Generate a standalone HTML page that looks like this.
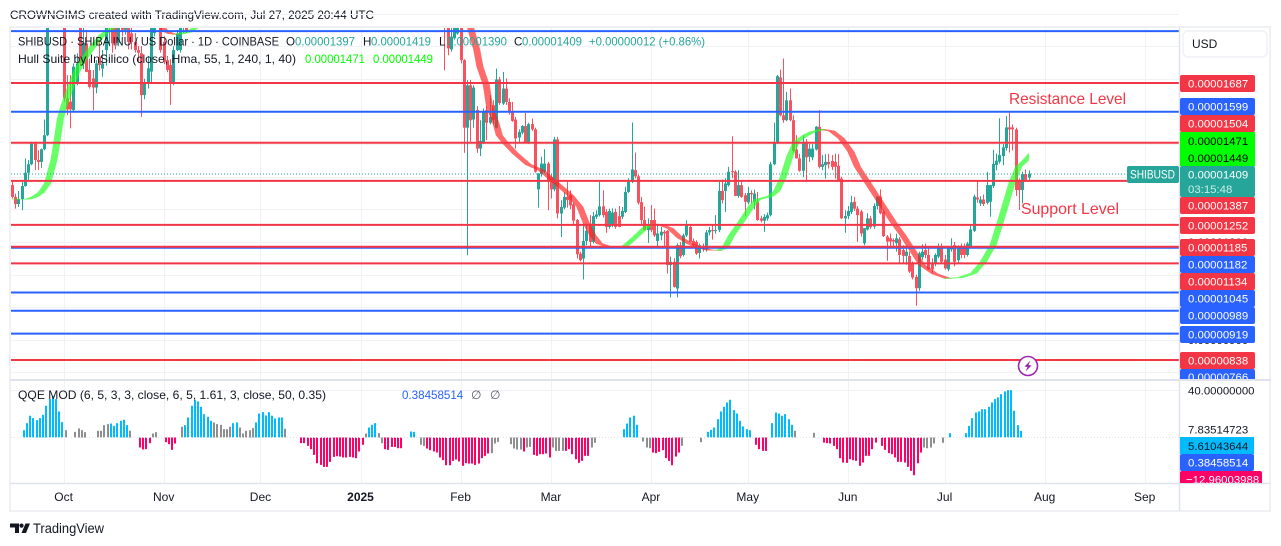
<!DOCTYPE html>
<html lang="en">
<head>
<meta charset="utf-8">
<title>SHIBUSD chart</title>
<style>
html,body{margin:0;padding:0;background:#fff;width:1281px;height:546px;overflow:hidden}
svg{display:block;font-family:"Liberation Sans","DejaVu Sans",sans-serif}
text{white-space:pre}
</style>
</head>
<body>
<svg id="chart" width="1281" height="546" viewBox="0 0 1281 546">
  <defs>
    <clipPath id="mainClip"><rect x="11" y="28" width="1168" height="351"/></clipPath>
    <clipPath id="hullClip"><rect x="11" y="28" width="1018" height="351"/></clipPath>
    <clipPath id="qqeClip"><rect x="11" y="381" width="1168" height="102"/></clipPath>
    <clipPath id="axisClip"><rect x="1180" y="28" width="90" height="351"/></clipPath>
    <clipPath id="qqeAxisClip"><rect x="1180" y="381" width="90" height="102"/></clipPath>
  </defs>
  <rect x="0" y="0" width="1281" height="546" fill="#ffffff"/>
  <text x="10" y="19" font-size="12" textLength="364" lengthAdjust="spacingAndGlyphs" fill="#131722">CROWNGIMS created with TradingView.com, Jul 27, 2025 20:44 UTC</text>
  <rect x="10" y="27" width="1260" height="484" fill="none" stroke="#eff1f5" stroke-width="2"/>
  <g id="grid"></g>
  <g id="candles" clip-path="url(#mainClip)"></g>
  <g id="hull" clip-path="url(#hullClip)"></g>
  <g id="levels" clip-path="url(#mainClip)"></g>
  <line x1="11" y1="174" x2="1127" y2="174" stroke="#26a69a" stroke-width="1" stroke-dasharray="1 2"/>
  <g id="qqe" clip-path="url(#qqeClip)"></g>
  <line x1="11" y1="437.5" x2="1179" y2="437.5" stroke="#dfe1e6" stroke-width="1" stroke-dasharray="1 2"/>

  <line x1="10" y1="380" x2="1271" y2="380" stroke="#e0e3eb" stroke-width="2"/>
  <line x1="10" y1="483.5" x2="1271" y2="483.5" stroke="#e0e3eb" stroke-width="1.5"/>
  <line x1="1179.5" y1="27" x2="1179.5" y2="511" stroke="#e0e3eb" stroke-width="1.5"/>

  <text x="18" y="45.5" font-size="12" textLength="261" lengthAdjust="spacingAndGlyphs" fill="#131722">SHIBUSD · SHIBA INU / US Dollar · 1D · COINBASE</text>
  <g font-size="11.6">
    <text x="286" y="45.5" fill="#131722">O</text>
    <text x="295" y="45.5" fill="#26a69a" textLength="60" lengthAdjust="spacingAndGlyphs">0.00001397</text>
    <text x="363" y="45.5" fill="#131722">H</text>
    <text x="371" y="45.5" fill="#26a69a" textLength="60" lengthAdjust="spacingAndGlyphs">0.00001419</text>
    <text x="439" y="45.5" fill="#131722">L</text>
    <text x="447" y="45.5" fill="#26a69a" textLength="60" lengthAdjust="spacingAndGlyphs">0.00001390</text>
    <text x="514" y="45.5" fill="#131722">C</text>
    <text x="522" y="45.5" fill="#26a69a" textLength="60" lengthAdjust="spacingAndGlyphs">0.00001409</text>
    <text x="589" y="45.5" fill="#26a69a" textLength="116" lengthAdjust="spacingAndGlyphs">+0.00000012 (+0.86%)</text>
  </g>
  <text x="18" y="63" font-size="12" textLength="278" lengthAdjust="spacingAndGlyphs" fill="#131722">Hull Suite by InSilico (close, Hma, 55, 1, 240, 1, 40)</text>
  <text x="305" y="63" font-size="11.6" textLength="60" lengthAdjust="spacingAndGlyphs" fill="#00ff00">0.00001471</text>
  <text x="373" y="63" font-size="11.6" textLength="60" lengthAdjust="spacingAndGlyphs" fill="#00ff00">0.00001449</text>

  <text x="18" y="399" font-size="12" textLength="308" lengthAdjust="spacingAndGlyphs" fill="#131722">QQE MOD (6, 5, 3, 3, close, 6, 5, 1.61, 3, close, 50, 0.35)</text>
  <text x="402" y="399" font-size="11.6" fill="#2962ff">0.38458514</text>
  <text x="471" y="399" font-size="12" fill="#555a66">∅</text>
  <text x="490" y="399" font-size="12" fill="#555a66">∅</text>

  <text x="1009" y="104" font-size="16" textLength="117" lengthAdjust="spacingAndGlyphs" fill="#f23645">Resistance Level</text>
  <text x="1021" y="214" font-size="16" textLength="98" lengthAdjust="spacingAndGlyphs" fill="#f23645">Support Level</text>

  <g>
    <circle cx="1028" cy="366" r="9.5" fill="#fff" stroke="#9c27b0" stroke-width="1.6"/>
    <polygon points="1030.5,360.5 1024.5,366.5 1027.5,367 1025.5,371.5 1031.5,365.5 1028.5,365" fill="#9c27b0"/>
  </g>

  <g>
    <rect x="1183" y="31" width="84" height="26" rx="5" fill="#fff" stroke="#eff1f5" stroke-width="1.5"/>
    <text x="1192" y="48" font-size="12" fill="#131722">USD</text>
  </g>

  <g clip-path="url(#axisClip)" font-size="11.4">
    <text x="1188" y="83" fill="#131722">0.00001700</text>
    <text x="1188" y="246" fill="#131722">0.00001200</text>
    <text x="1188" y="344" fill="#131722">0.00000900</text>

    <rect x="1180" y="75" width="75" height="17" rx="2" fill="#f23645"/>
    <text x="1188" y="87.5" fill="#fff">0.00001687</text>
    <rect x="1180" y="98" width="75" height="17" rx="2" fill="#2962ff"/>
    <text x="1188" y="110.5" fill="#fff">0.00001599</text>
    <rect x="1180" y="115" width="75" height="17" rx="2" fill="#f23645"/>
    <text x="1188" y="127.5" fill="#fff">0.00001504</text>
    <rect x="1180" y="132" width="75" height="17" fill="#00ff00"/>
    <text x="1188" y="145" fill="#000">0.00001471</text>
    <rect x="1180" y="149" width="75" height="17" fill="#00ff00"/>
    <text x="1188" y="162" fill="#000">0.00001449</text>
    <rect x="1180" y="166" width="75" height="31" rx="2" fill="#26a69a"/>
    <text x="1188" y="178.5" fill="#fff">0.00001409</text>
    <text x="1188" y="193" fill="#c9ece8">03:15:48</text>
    <rect x="1180" y="197" width="75" height="17" rx="2" fill="#f23645"/>
    <text x="1188" y="209.5" fill="#fff">0.00001387</text>
    <rect x="1180" y="217" width="75" height="17" rx="2" fill="#f23645"/>
    <text x="1188" y="229.5" fill="#fff">0.00001252</text>
    <rect x="1180" y="239" width="75" height="17" rx="2" fill="#f23645"/>
    <text x="1188" y="251.5" fill="#fff">0.00001185</text>
    <rect x="1180" y="256" width="75" height="17" rx="2" fill="#2962ff"/>
    <text x="1188" y="268.5" fill="#fff">0.00001182</text>
    <rect x="1180" y="273" width="75" height="17" rx="2" fill="#f23645"/>
    <text x="1188" y="285.5" fill="#fff">0.00001134</text>
    <rect x="1180" y="290" width="75" height="17" rx="2" fill="#2962ff"/>
    <text x="1188" y="302.5" fill="#fff">0.00001045</text>
    <rect x="1180" y="307" width="75" height="17" rx="2" fill="#2962ff"/>
    <text x="1188" y="319.5" fill="#fff">0.00000989</text>
    <rect x="1180" y="326" width="75" height="17" rx="2" fill="#2962ff"/>
    <text x="1188" y="338.5" fill="#fff">0.00000919</text>
    <rect x="1180" y="352" width="75" height="17" rx="2" fill="#f23645"/>
    <text x="1188" y="364.5" fill="#fff">0.00000838</text>
    <rect x="1180" y="369" width="75" height="17" rx="2" fill="#2962ff"/>
    <text x="1188" y="381" fill="#fff">0.00000766</text>
  </g>

  <rect x="1127" y="166" width="52" height="17" rx="2" fill="#26a69a"/>
  <text x="1130" y="178.5" font-size="11.6" textLength="45" lengthAdjust="spacingAndGlyphs" fill="#fff">SHIBUSD</text>

  <g clip-path="url(#qqeAxisClip)" font-size="11.4">
    <text x="1188" y="394.5" fill="#131722">40.00000000</text>
    <text x="1188" y="433.5" fill="#131722">7.83514723</text>
    <rect x="1180" y="437" width="74" height="17" fill="#00bcff"/>
    <text x="1188" y="450" fill="#131722">5.61043644</text>
    <rect x="1180" y="454" width="74" height="17" rx="2" fill="#2962ff"/>
    <text x="1188" y="466.5" fill="#fff">0.38458514</text>
    <rect x="1180" y="471" width="82" height="17" rx="2" fill="#ff0066"/>
    <text x="1186" y="483.5" fill="#fff">−12.96003988</text>
  </g>

  <g id="timeAxis"></g>

  <g>
    <g fill="#131722">
      <polygon points="10,523.5 19,523.5 19,533 15,533 15,527.5 10,527.5"/>
      <circle cx="21.5" cy="525.6" r="2.1"/>
      <polygon points="25.5,523.5 30,523.5 26,533 21.5,533"/>
    </g>
    <text x="33" y="533" font-size="13.4" textLength="71" lengthAdjust="spacingAndGlyphs" fill="#131722">TradingView</text>
  </g>
</svg>

<script>
// Price values are expressed in units of 0.00000001 USD.
const gapBars = Array(79).fill(null);

const opens = [
1374,1338,1316,1331,1371,1412,1438,1501,1451,1445,
1484,1527,1900,1940,1960,1930,1870,1640,1630,1604,
1685,1880,1747,1808,1727,1701,1673,1767,1731,1788,
1870,1870,1870,1810,1870,1850,1870,1839,1813,1788,
1778,1650,1686,1722,1840,1870,1870,1813,1757,1742,
1686,1788,1788,1860,1870,
...gapBars,
1900,1870,1790,1824,1839,1860,1757,1550,1680,1575,
1604,1486,1502,1604,1565,1619,1550,1698,1624,1670,
1629,1599,1575,1520,1535,1555,1504,1561,1545,1361,
1408,1415,1440,1399,1361,1514,1287,1305,1338,1343,
1315,1267,1164,1149,1203,1256,1200,1277,1282,1309,
1292,1246,1250,1292,1279,1277,1292,1353,1384,1420,
1401,1322,1267,1236,1267,1267,1203,1220,1231,1234,
1129,1139,1057,1190,1160,1220,1246,1203,1200,1166,
1187,1177,1229,1236,1234,1236,1356,1356,1374,1417,
1415,1341,1374,1343,1321,1350,1323,1323,1272,1265,
1272,1282,1438,1502,1704,1588,1573,1634,1573,1483,
1456,1418,1507,1461,1459,1483,1553,1430,1435,1445,
1448,1445,1433,1394,1272,1279,1292,1323,1302,
1293,1196,1238,1272,1247,1310,1339,1293,1216,1211,
1206,1196,1208,1175,1157,1157,1134,1093,1058,1153,
1175,1160,1136,1132,1155,1185,1146,1116,1177,1190,
1144,1185,1182,1160,1185,1234,1336,1318,1330,1320,
1323,1371,1436,1446,1463,1488,1551,1551,1545,1390,
1359,1408,1397];

const highs = [
1389,1348,1356,1384,1456,1451,1507,1507,1481,1486,
1575,1950,1960,1990,1980,1950,1900,1711,1711,1747,
1778,1900,1870,1850,1762,1727,1757,1818,1788,1880,
1900,1890,1890,1880,1900,1880,1880,1860,1840,1800,
1800,1700,1770,1890,1900,1930,1890,1830,1770,1760,
1800,1850,1870,1880,1890,
...gapBars,
1920,1890,1870,1880,1880,1880,1760,1696,1696,1680,
1616,1573,1609,1616,1650,1634,1731,1706,1721,1701,
1640,1629,1583,1545,1558,1595,1565,1578,1550,1410,
1461,1484,1445,1410,1522,1522,1328,1353,1384,1358,
1320,1270,1170,1256,1256,1282,1292,1297,1384,1358,
1300,1302,1303,1302,1310,1307,1369,1395,1566,1474,
1405,1338,1308,1272,1313,1302,1256,1246,1236,1236,
1155,1150,1195,1200,1225,1266,1251,1210,1205,1195,
1195,1236,1246,1251,1282,1384,1391,1395,1430,1524,
1420,1420,1389,1350,1369,1358,1360,1353,1280,1285,
1290,1445,1565,1712,1728,1762,1660,1670,1588,1527,
1470,1527,1515,1500,1500,1555,1604,1466,1469,1470,
1466,1470,1469,1400,1297,1310,1341,1338,1310,
1298,1242,1288,1280,1318,1340,1361,1300,1221,1226,
1211,1225,1215,1190,1190,1170,1140,1100,1170,1193,
1195,1185,1150,1165,1195,1195,1160,1185,1211,1200,
1190,1195,1195,1200,1250,1345,1385,1340,1345,1415,
1375,1482,1470,1579,1500,1586,1596,1560,1550,1395,
1415,1422,1419];

const lows = [
1333,1302,1307,1297,1369,1389,1435,1420,1420,1427,
1481,1524,1880,1900,1900,1880,1630,1589,1548,1601,
1680,1740,1730,1720,1670,1604,1655,1725,1706,1740,
1800,1780,1790,1800,1830,1835,1790,1790,1780,1750,
1583,1637,1670,1686,1830,1860,1780,1745,1720,1620,
1680,1785,1780,1840,1840,
...gapBars,
1726,1772,1783,1820,1835,1747,1473,1159,1507,1550,
1473,1463,1500,1512,1560,1560,1548,1620,1620,1620,
1590,1568,1486,1502,1530,1502,1500,1540,1412,1305,
1400,1410,1297,1333,1355,1272,1215,1300,1305,1300,
1250,1149,1140,1085,1190,1180,1195,1270,1278,1275,
1228,1240,1245,1240,1245,1270,1288,1350,1380,1395,
1315,1251,1235,1197,1230,1215,1183,1205,1185,1103,
1030,1060,1030,1150,1155,1215,1200,1185,1160,1149,
1170,1170,1220,1207,1225,1230,1318,1292,1370,1395,
1340,1335,1335,1279,1315,1318,1300,1265,1260,1231,
1265,1278,1435,1500,1585,1565,1570,1570,1475,1455,
1415,1399,1389,1445,1450,1480,1425,1420,1394,1425,
1420,1394,1385,1270,1228,1270,1285,1295,1200,
1216,1190,1235,1240,1240,1300,1285,1215,1142,1180,
1180,1170,1135,1136,1130,1105,1085,1004,1050,1145,
1150,1115,1104,1125,1150,1135,1115,1110,1170,1125,
1135,1150,1150,1155,1180,1230,1320,1310,1310,1315,
1277,1365,1420,1440,1435,1480,1474,1480,1341,1298,
1318,1385,1390];

const closes = [
1338,1316,1331,1371,1412,1438,1501,1451,1445,1484,
1527,1900,1940,1960,1930,1900,1640,1606,1606,1737,
1747,1747,1810,1721,1675,1673,1747,1742,1747,1870,
1890,1808,1810,1870,1850,1870,1813,1813,1788,1780,
1650,1686,1732,1870,1870,1900,1788,1752,1727,1686,
1788,1839,1870,1870,1844,
...gapBars,
1870,1793,1829,1870,1860,1757,1550,1680,1573,1673,
1486,1510,1599,1565,1583,1573,1698,1626,1670,1629,
1596,1571,1517,1537,1555,1504,1561,1545,1415,1410,
1440,1440,1384,1361,1514,1287,1307,1338,1328,1312,
1265,1162,1144,1203,1234,1200,1279,1284,1309,1282,
1246,1295,1290,1246,1246,1295,1353,1384,1422,1401,
1320,1267,1236,1254,1236,1220,1226,1231,1226,1129,
1139,1062,1190,1156,1220,1251,1200,1190,1164,1190,
1177,1229,1236,1234,1236,1356,1328,1379,1415,1415,
1341,1374,1338,1323,1350,1346,1348,1267,1265,1277,
1282,1438,1502,1708,1588,1573,1634,1573,1479,1456,
1418,1507,1459,1486,1486,1553,1430,1438,1445,1438,
1430,1430,1387,1272,1279,1295,1321,1302,1282,
1226,1242,1272,1245,1310,1339,1288,1218,1201,1201,
1201,1211,1160,1157,1170,1109,1091,1058,1165,1170,
1160,1116,1116,1160,1185,1139,1119,1183,1187,1139,
1180,1160,1160,1195,1238,1339,1330,1330,1316,1374,
1374,1439,1449,1466,1490,1551,1545,1545,1359,1359,
1408,1390,1409];

// Hull Suite: bar number and reading of the moving average at that bar.
const hullBars = [0,4,6,8,10,11,12,13,14,15,17,19,21,24,27,30,34,40,44,46,48,50,52,54,55,57,62,
130,138,141,143,144,146,147,149,150,152,155,159,163,166,169,172,175,177,179,181,184,187,189,192,195,197,200,203,206,209,212,215,218,220,222,225,228,230,234,236,238,240,242,245,247,250,253,256,259,261,265,268,272,275,278,281,285,289,293,297,300,303,305,307,309,311,313,315];
const hullValues = [1331,1331,1338,1351,1379,1415,1451,1512,1578,1614,1670,1721,1757,1798,1834,1855,1900,1930,1900,1851,1839,1836,1839,1844,1851,1864,2000,
2100,1960,1860,1790,1737,1680,1614,1563,1527,1502,1471,1437,1420,1394,1369,1343,1307,1256,1220,1195,1185,1183,1187,1213,1241,1254,1253,1241,1213,1195,1183,1175,1174,1183,1220,1262,1307,1330,1340,1356,1399,1461,1507,1527,1537,1545,1540,1517,1476,1430,1369,1323,1262,1221,1175,1129,1102,1088,1091,1104,1139,1190,1252,1318,1385,1431,1449,1471];
const hullLagBars = 2;

const redLevels = [1687,1504,1387,1252,1185,1134,838];
const blueLevels = [1846,1599,1182,1045,989,919];
const gridPrices = [1900,1800,1700,1600,1500,1400,1300,1200,1100,1000,900,800];

const monthLabels = ["Oct","Nov","Dec","2025","Feb","Mar","Apr","May","Jun","Jul","Aug","Sep"];
const monthBars = [16,47,77,108,139,167,198,228,259,289,320,351];

// QQE MOD histogram, one reading per bar; null where no bar is drawn.
const qqeValues = [
6.2,12.2,18.5,16.5,14.8,16.5,19.3,27,32.7,35.5,32.7,22.2,13.1,6.2,null,null,
4.8,7.7,6.2,4.5,null,null,null,
5.7,5.7,10.5,11.4,11.9,9.9,12.2,14.2,15.1,10.5,5.7,null,null,
-8.5,-10.2,-9.9,-4.8,3.4,4.5,null,null,
-4,-5.7,-10.5,-5.1,null,
9.1,10.5,17,27,31.8,30.7,26.1,19.9,17.6,14.2,12.8,11.4,10.8,7.1,7.1,9.1,12.2,12.8,8.5,3.4,5.7,6.2,8,12.8,20.4,21.6,18.7,21.6,18.5,16.2,17,17,7.4,null,null,null,null,
-4.8,-4.8,-7.1,-9.9,-14.8,-21.9,-23.3,-25,-25,-20.7,-16.5,-15.9,-16.2,-17,-17,-16.5,-17,-17.6,-11.9,-6.2,3.4,8.5,10.8,12.2,3.7,-4.8,-9.9,-10.5,-8,-8,-9.1,-9.1,null,null,
5.1,4.8,null,
-6.2,-7.1,-9.4,-10.8,-11.9,-12.8,-17,-19.3,-23.6,-23.6,-19.9,-18.7,-20.4,-24.1,-21.9,-22.2,-22.2,-23.3,-22.2,-17.6,-15.6,-13.6,-13.3,-5.1,-3.7,null,null,null,
-5.7,-9.4,-10.2,-10.2,-11.9,-8.5,-8,-14.8,-15.6,-14.2,-14.2,-13.6,-17,-8.5,-11.4,-11.4,-11.4,-11.4,-9.9,-14.2,-18.5,-21.6,-19.9,-15.6,-15.6,-8.5,-4.5,null,null,null,null,null,null,null,null,
7.1,11.9,17,18.5,10.8,null,
-3.4,-8.5,-9.1,-12.8,-13.3,-12.2,-10.8,-17.6,-19.9,-23.6,-16.2,-12.8,-7.1,null,null,null,null,null,
-4,null,
4.8,6.5,8.5,15.6,22.2,26.1,29.8,32.1,23.3,20.4,14.2,9.4,7.1,6.2,null,
-6.2,-9.9,-11.4,-11.4,null,
12.2,21.3,20.4,18.5,19.9,15.6,10.8,5.7,null,null,null,null,null,
4,null,null,
-4.3,-4.8,-5.1,-7.1,-9.9,-17.6,-21.3,-21.6,-18.5,-19.3,-19.9,-24.1,-21.3,-15.6,-15.6,-9.9,-4.3,null,
-7.1,-10.5,-13.3,-14.2,-17,-20.7,-20.7,-21.3,-25,-28.4,-32.1,-21.9,-12.8,-8.5,-9.1,-8.5,-5.1,null,null,
-4.5,null,
3.7,null,null,null,null,
3.7,9.9,16.5,21.3,22.2,24.1,24.1,26.1,29.8,32.7,34.1,36.9,39.2,40.3,40.3,22.7,10.5,5.61];
// Bar numbers whose histogram column is neutral (gray).
const qqeNeutralBars = [13,16,17,18,19,23,24,25,26,33,40,41,49,59,60,61,62,63,64,67,68,69,70,71,81,106,110,111,123,124,145,146,147,151,152,153,154,156,157,164,165,166,167,176,177,192,193,194,204,210,239,245,279,280,281,282,285];

const SVG_NS = "http://www.w3.org/2000/svg";
const CANDLE_UP = "#26a69a";
const CANDLE_DOWN = "#f7525f";
const LEFT_X = 12;
const BAR_STEP = 3.227;
const QQE_BAR_SHIFT = 3.63;

function xScale(bar) { return LEFT_X + BAR_STEP * bar; }
function yScale(price) { return 83 + (1687 - price) / 3.065; }
function qqeY(value) { return 437.5 - value * 1.175; }

function make(tag, parent, attrs) {
  const el = document.createElementNS(SVG_NS, tag);
  for (const key in attrs) el.setAttribute(key, attrs[key]);
  parent.appendChild(el);
  return el;
}

const gridLayer = document.getElementById("grid");
gridPrices.forEach(function (price) {
  const y = Math.round(yScale(price)) + 0.5;
  const line = make("line", gridLayer, { x1: 11, x2: 1179, y1: y, y2: y, stroke: "#f0f2f6", "stroke-width": 1 });
  
  
});
const qqeTopGrid = make("line", gridLayer, { x1: 11, x2: 1179, y1: 390.5, y2: 390.5, stroke: "#f0f2f6", "stroke-width": 1 });


monthBars.forEach(function (bar) {
  const x = Math.round(xScale(bar)) + 0.5;
  const line = make("line", gridLayer, { x1: x, x2: x, y1: 28, y2: 483, stroke: "#f0f2f6", "stroke-width": 1 });
  
  
});

const candleLayer = document.getElementById("candles");
opens.forEach(function (open, i) {
  if (open === null) return;
  const close = closes[i];
  const color = close >= open ? CANDLE_UP : CANDLE_DOWN;
  const cx = Math.round(xScale(i));
  const wick = make("rect", candleLayer, {
    x: cx, width: 1,
    y: yScale(highs[i]),
    height: Math.max(1, yScale(lows[i]) - yScale(highs[i])),
    fill: color
  });
  
  
  const top = yScale(Math.max(open, close));
  const bottom = yScale(Math.min(open, close));
  const body = make("rect", candleLayer, {
    x: cx - 1, width: 3,
    y: top,
    height: Math.max(1, bottom - top),
    fill: color
  });
  
  
});

const hullLayer = document.getElementById("hull");
let risingPath = "";
let fallingPath = "";
for (let k = 0; k < hullBars.length - 1; k++) {
  const x0 = xScale(hullBars[k]);
  const x1 = xScale(hullBars[k + 1]);
  const lag = BAR_STEP * hullLagBars;
  const y0 = yScale(hullValues[k]);
  const y1 = yScale(hullValues[k + 1]);
  const quad = "M" + x0 + " " + y0 + "L" + x1 + " " + y1 + "L" + (x1 + lag) + " " + y1 + "L" + (x0 + lag) + " " + y0 + "Z";
  if (hullValues[k + 1] >= hullValues[k]) risingPath += quad; else fallingPath += quad;
}
const hullFalling = make("path", hullLayer, { d: fallingPath, fill: "#ff2020", stroke: "#ff2020", "stroke-width": 0.5, opacity: 0.66 });


const hullRising = make("path", hullLayer, { d: risingPath, fill: "#22ff22", stroke: "#22ff22", "stroke-width": 0.5, opacity: 0.68 });



const levelLayer = document.getElementById("levels");
blueLevels.forEach(function (price) {
  const y = yScale(price);
  const line = make("line", levelLayer, { x1: 11, x2: 1179, y1: y, y2: y, stroke: "#2962ff", "stroke-width": 2 });
  
  
});
redLevels.forEach(function (price) {
  const y = yScale(price);
  const line = make("line", levelLayer, { x1: 11, x2: 1179, y1: y, y2: y, stroke: "#f23645", "stroke-width": 2 });
  
  
});

const qqeLayer = document.getElementById("qqe");
qqeValues.forEach(function (value, i) {
  if (value === null) return;
  const neutral = qqeNeutralBars.indexOf(i) >= 0;
  const color = neutral ? "#8f8f8f" : (value > 0 ? "#00bcff" : "#ff0066");
  const y = qqeY(value);
  const bar = make("rect", qqeLayer, {
    x: Math.round(xScale(i + QQE_BAR_SHIFT)) - 1,
    width: 2,
    y: Math.min(y, qqeY(0)),
    height: Math.abs(y - qqeY(0)),
    fill: color
  });
  
  
});

const timeLayer = document.getElementById("timeAxis");
monthLabels.forEach(function (label, i) {
  const tick = make("text", timeLayer, {
    x: xScale(monthBars[i]),
    y: 501,
    "text-anchor": "middle",
    "font-size": 12,
    "font-weight": label === "2025" ? "bold" : "normal",
    fill: "#131722"
  });
  tick.textContent = label;
  
  
});
</script>
</body>
</html>
